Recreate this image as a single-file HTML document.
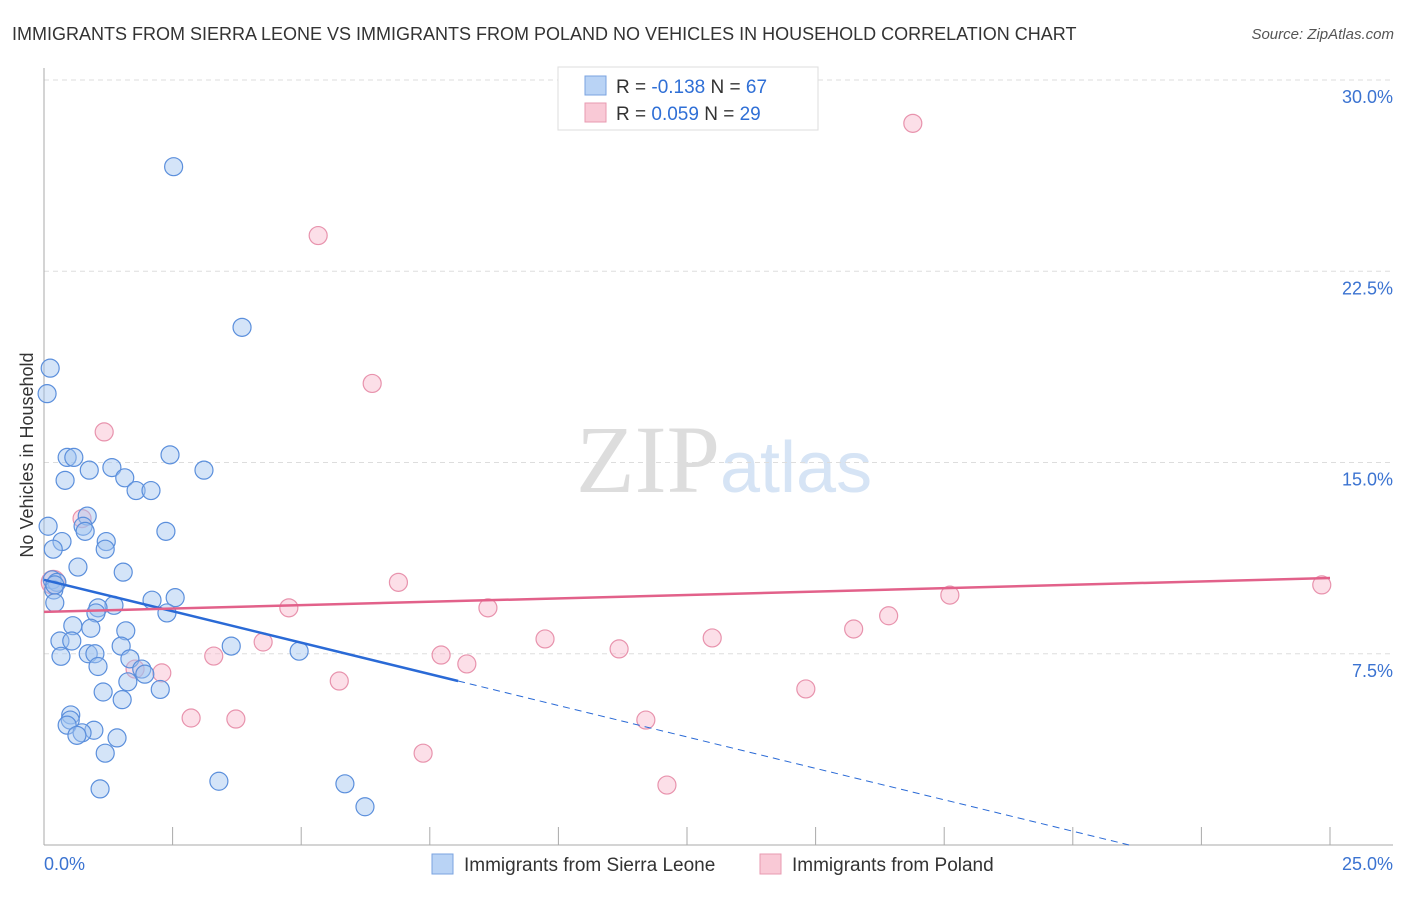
<!DOCTYPE html>
<html><head><meta charset="utf-8"><style>
body{margin:0;background:#fff;font-family:"Liberation Sans",sans-serif;}
svg text{font-family:"Liberation Sans",sans-serif;}
</style></head><body>
<svg width="1406" height="892">
<text x="12" y="40" font-size="18" fill="#333">IMMIGRANTS FROM SIERRA LEONE VS IMMIGRANTS FROM POLAND NO VEHICLES IN HOUSEHOLD CORRELATION CHART</text>
<text x="1394" y="39" font-size="15" fill="#555" font-style="italic" text-anchor="end">Source: ZipAtlas.com</text>
<text x="720" y="492" font-size="96" fill="#ddd" text-anchor="end" font-family="Liberation Serif" style="font-family:'Liberation Serif',serif">ZIP</text>
<text x="720" y="492" font-size="72" fill="#d6e4f5">atlas</text>
<g id="grid"></g><g id="axes"></g><g id="marks"></g>
<g>
<rect x="558" y="67" width="260" height="63" fill="#fff" stroke="#ddd"/>
<rect x="585" y="76" width="21" height="19" fill="#b9d3f5" stroke="#7aa3e0"/>
<rect x="585" y="103" width="21" height="19" fill="#f9c9d6" stroke="#e89ab0"/>
<text x="616" y="93" font-size="19" fill="#333">R = <tspan fill="#2f6fd6">-0.138</tspan>   N = <tspan fill="#2f6fd6">67</tspan></text>
<text x="616" y="120" font-size="19" fill="#333">R =  <tspan fill="#2f6fd6">0.059</tspan>   N = <tspan fill="#2f6fd6">29</tspan></text>
</g>
<g>
<rect x="432" y="854" width="21" height="20" fill="#b9d3f5" stroke="#7aa3e0"/>
<text x="464" y="871" font-size="19" fill="#333">Immigrants from Sierra Leone</text>
<rect x="760" y="854" width="21" height="20" fill="#f9c9d6" stroke="#e89ab0"/>
<text x="792" y="871" font-size="19" fill="#333">Immigrants from Poland</text>
</g>
<text x="33" y="455" font-size="18" fill="#333" text-anchor="middle" transform="rotate(-90 33 455)">No Vehicles in Household</text>
</svg>
<script>
const yTicks=[7.5,15,22.5,30];
const yTickLabels=["7.5%","15.0%","22.5%","30.0%"];
const xTickLabels=["0.0%","25.0%"];
const blueX=[2.52,3.85,0.12,0.06,0.45,0.58,2.45,3.11,0.88,1.32,0.41,1.57,1.79,2.08,0.08,0.84,0.76,0.8,2.37,0.35,0.18,1.21,1.19,0.66,1.54,0.16,0.25,0.19,0.21,2.1,2.55,1.36,1.05,1.01,2.39,0.56,0.91,1.59,0.31,0.54,1.5,3.64,4.96,0.33,0.86,0.99,1.67,1.9,1.05,1.96,1.63,2.26,1.15,1.52,0.52,0.51,0.45,0.97,0.74,0.64,1.42,1.19,3.4,5.85,6.24,1.09,0.21];
const blueY=[26.6,20.3,18.7,17.7,15.2,15.2,15.3,14.7,14.7,14.8,14.3,14.4,13.9,13.9,12.5,12.9,12.5,12.3,12.3,11.9,11.6,11.9,11.6,10.9,10.7,10.4,10.3,10.0,9.5,9.6,9.7,9.4,9.3,9.1,9.1,8.6,8.5,8.4,8.0,8.0,7.8,7.8,7.6,7.4,7.5,7.5,7.3,6.9,7.0,6.7,6.4,6.1,6.0,5.7,5.1,4.9,4.7,4.5,4.4,4.3,4.2,3.6,2.5,2.4,1.5,2.2,10.2];
const pinkX=[16.89,5.33,6.38,1.17,0.74,0.18,6.89,17.61,24.84,4.76,8.63,16.42,15.74,9.74,12.99,4.26,11.18,7.72,3.3,8.22,2.29,5.74,14.81,2.86,3.73,11.7,7.37,12.11,1.77];
const pinkY=[28.3,23.9,18.1,16.2,12.8,10.3,10.3,9.8,10.2,9.3,9.3,8.99,8.47,8.08,8.12,7.96,7.69,7.45,7.41,7.1,6.75,6.43,6.12,4.98,4.94,4.9,3.6,2.35,6.9];
const blueTrend=[10.4,-0.493];
const pinkTrend=[9.14,0.0532];
const NS="http://www.w3.org/2000/svg";
const X0=44,X1=1330,Y0=845,YPX=25.5;
function sx(v){return X0+v/25*(X1-X0);}
function sy(v){return Y0-v*YPX;}
function mk(tag,attrs,parent){const e=document.createElementNS(NS,tag);for(const k in attrs)e.setAttribute(k,attrs[k]);document.getElementById(parent).appendChild(e);return e;}
yTicks.forEach((t,i)=>{
 const g=mk('line',{x1:X0,x2:1393,y1:sy(t),y2:sy(t),stroke:'#ddd','stroke-dasharray':'5,4'},'grid');
 
 
 const l=mk('text',{x:1393,y:sy(t)+23,'font-size':18,fill:'#3b73d1','text-anchor':'end'},'grid');
 l.textContent=yTickLabels[i];
 
 
});
const ax=mk('line',{x1:X0,x2:X0,y1:68,y2:Y0,stroke:'#aaa'},'axes');


const bx=mk('line',{x1:X0,x2:1393,y1:Y0,y2:Y0,stroke:'#aaa'},'axes');


for(let i=1;i<=10;i++){const v=i*2.5;const t=mk('line',{x1:sx(v),x2:sx(v),y1:Y0-18,y2:Y0,stroke:'#aaa'},'axes');
 
 }
[[0,'start'],[25,'end']].forEach((p,i)=>{const t=mk('text',{x:i?1393:44,y:870,'font-size':18,fill:'#3b73d1','text-anchor':p[1]},'axes');t.textContent=xTickLabels[i];
 
 });
pinkX.forEach((x,i)=>{const c=mk('circle',{cx:sx(x),cy:sy(pinkY[i]),r:i==5?12:9,fill:'rgba(248,185,205,0.45)',stroke:'#e893ad','stroke-width':1.2},'marks');
 
 });
blueX.forEach((x,i)=>{const c=mk('circle',{cx:sx(x),cy:sy(blueY[i]),r:9,fill:'rgba(160,195,240,0.45)',stroke:'#5b8fdc','stroke-width':1.2},'marks');
 
 });
const bxEnd=8.05,bxZero=-blueTrend[0]/blueTrend[1];
const bl=mk('line',{x1:sx(0),y1:sy(blueTrend[0]),x2:sx(bxEnd),y2:sy(blueTrend[0]+blueTrend[1]*bxEnd),stroke:'#2a6ad6','stroke-width':2.5},'marks');


const bd=mk('line',{x1:sx(bxEnd),y1:sy(blueTrend[0]+blueTrend[1]*bxEnd),x2:sx(bxZero),y2:sy(0),stroke:'#2a6ad6','stroke-width':1,'stroke-dasharray':'7,5'},'marks');


const pl=mk('line',{x1:sx(0),y1:sy(pinkTrend[0]),x2:sx(25),y2:sy(pinkTrend[0]+pinkTrend[1]*25),stroke:'#e2618a','stroke-width':2.5},'marks');


</script>
</body></html>
